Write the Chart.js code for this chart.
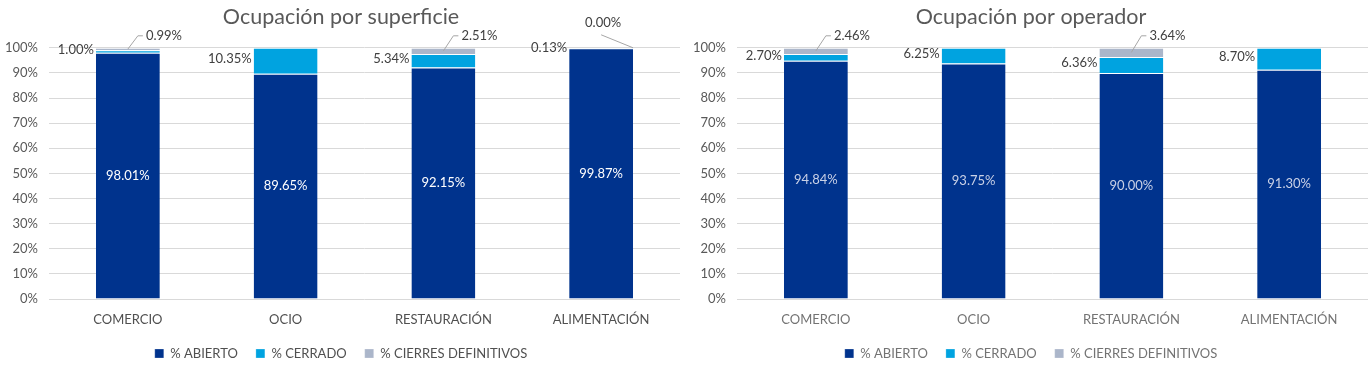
<!DOCTYPE html>
<html>
<head>
<meta charset="utf-8">
<script src="https://cdn.jsdelivr.net/npm/chart.js@4.4.1/dist/chart.umd.min.js"></script>
<style>
    body { margin: 0; background: #fff; }
    .wrap { display: flex; width: 1372px; height: 376px; }
    .box { position: relative; width: 686px; height: 376px; }
</style>
</head>
<body>
<div class="wrap">
    <div class="box"><canvas id="chartSuperficie"></canvas></div>
    <div class="box"><canvas id="chartOperador"></canvas></div>
</div>
<script>
const categories = ['COMERCIO', 'OCIO', 'RESTAURACIÓN', 'ALIMENTACIÓN'];
const seriesNames = ['% ABIERTO', '% CERRADO', '% CIERRES DEFINITIVOS'];

const superficieAbierto = [98.01, 89.65, 92.15, 99.87];
const superficieCerrado = [1.00, 10.35, 5.34, 0.13];
const superficieDefinitivos = [0.99, null, 2.51, 0.00];

const operadorAbierto = [94.84, 93.75, 90.00, 91.30];
const operadorCerrado = [2.70, 6.25, 6.36, 8.70];
const operadorDefinitivos = [2.46, null, 3.64, null];

const colors = ['#00338D', '#00A3E0', '#ABB6CA'];
const textGrey = '#595959';

// draws the value labels like the excel chart (inside, left, leader line)
const barLabels = {
    id: 'barLabels',
    afterDatasetsDraw(chart, args, opts) {
        const ctx = chart.ctx;
        ctx.save();
        ctx.font = '13px Lato';
        ctx.textBaseline = 'middle';
        chart.data.datasets.forEach((ds, di) => {
            const meta = chart.getDatasetMeta(di);
            meta.data.forEach((bar, i) => {
                const v = ds.data[i];
                if (v === null || v === undefined) return;
                const p = bar.getProps(['x', 'y', 'base', 'width'], true);
                const txt = v.toFixed(2) + '%';
                const mid = (p.y + p.base) / 2;
                if (di === 0) {
                    ctx.fillStyle = opts.insideColor;
                    ctx.textAlign = 'center';
                    ctx.fillText(txt, p.x, mid);
                } else if (di === 1) {
                    ctx.fillStyle = '#404040';
                    ctx.textAlign = 'right';
                    ctx.fillText(txt, p.x - p.width / 2 - 2, Math.max(mid - 2, chart.chartArea.top));
                } else {
                    ctx.strokeStyle = '#a6a6a6';
                    ctx.lineWidth = 1;
                    ctx.fillStyle = '#404040';
                    ctx.beginPath();
                    if (v === 0) {
                        ctx.moveTo(p.x, p.y - 13);
                        ctx.lineTo(p.x + p.width / 2, p.y);
                        ctx.stroke();
                        ctx.textAlign = 'center';
                        ctx.fillText(txt, p.x + 2, p.y - 25);
                    } else {
                        ctx.moveTo(p.x, mid);
                        ctx.lineTo(p.x + 10, p.y - 12);
                        ctx.lineTo(p.x + 15, p.y - 12);
                        ctx.stroke();
                        ctx.textAlign = 'left';
                        ctx.fillText(txt, p.x + 18, p.y - 12);
                    }
                }
            });
        });
        ctx.restore();
    }
};

function makeChart(id, title, abierto, cerrado, definitivos, pad, labelColor, insideColor) {
    const ctx = document.getElementById(id).getContext('2d');
    const series = [abierto, cerrado, definitivos];
    return new Chart(ctx, {
        type: 'bar',
        data: {
            labels: categories,
            datasets: series.map((d, k) => ({
                label: seriesNames[k],
                data: d,
                backgroundColor: colors[k],
                borderColor: '#ffffff',
                borderWidth: { top: 1, left: 0, right: 0, bottom: 0 },
                borderSkipped: false,
                barPercentage: 0.405,
                categoryPercentage: 1
            }))
        },
        options: {
            responsive: false,
            animation: false,
            layout: { padding: { left: pad.left, right: pad.right, top: 0, bottom: 6 } },
            scales: {
                x: {
                    stacked: true,
                    afterFit: scale => { scale.height = 30; },
                    grid: { display: false },
                    border: { display: false },
                    ticks: { color: labelColor, font: { family: 'Lato', size: 13 }, padding: 5 }
                },
                y: {
                    stacked: true,
                    min: 0,
                    max: 100,
                    afterFit: scale => { scale.width = pad.yWidth; },
                    grid: { color: '#d9d9d9', drawTicks: false },
                    border: { display: false },
                    ticks: {
                        stepSize: 10,
                        color: textGrey,
                        padding: 11,
                        font: { family: 'Lato', size: 13 },
                        callback: v => v + '%'
                    }
                }
            },
            plugins: {
                title: {
                    display: true,
                    text: title,
                    color: textGrey,
                    font: { family: 'Lato', size: 21.5, weight: 'normal' },
                    padding: { top: 4, bottom: 18 }
                },
                legend: {
                    position: 'bottom',
                    labels: {
                        color: labelColor,
                        font: { family: 'Lato', size: 13 },
                        boxWidth: 9,
                        boxHeight: 9,
                        padding: 18
                    }
                },
                tooltip: { enabled: false },
                barLabels: { insideColor: insideColor }
            }
        },
        plugins: [barLabels]
    });
}

document.getElementById('chartSuperficie').width = 686;
document.getElementById('chartSuperficie').height = 376;
document.getElementById('chartOperador').width = 686;
document.getElementById('chartOperador').height = 376;

makeChart('chartSuperficie', 'Ocupación por superficie', superficieAbierto, superficieCerrado, superficieDefinitivos,
    { left: 2, right: 6, yWidth: 47 }, '#505050', '#ffffff');
makeChart('chartOperador', 'Ocupación por operador', operadorAbierto, operadorCerrado, operadorDefinitivos,
    { left: 8, right: 4, yWidth: 43 }, '#737373', '#c9d1e6');
</script>
</body>
</html>
